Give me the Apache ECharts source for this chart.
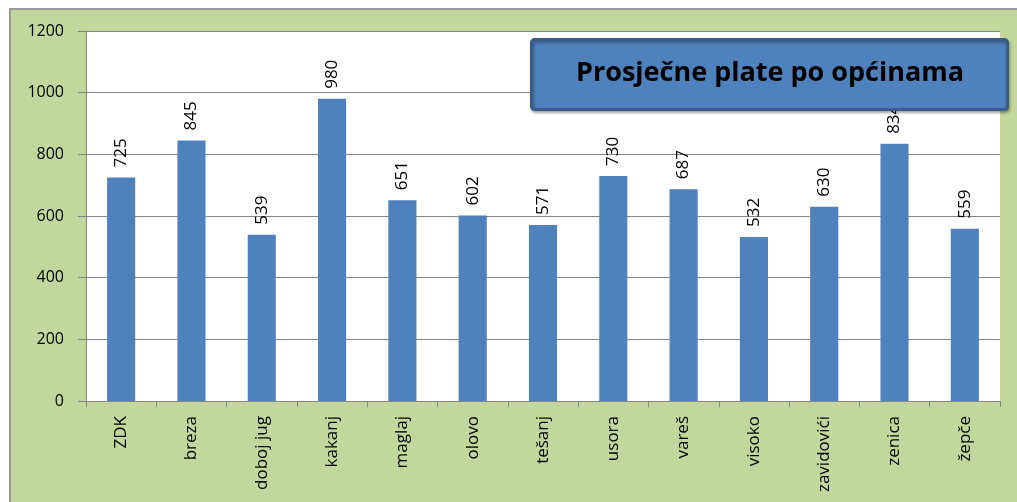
<!DOCTYPE html>
<html>
<head>
<meta charset="utf-8">
<script src="https://cdn.jsdelivr.net/npm/echarts@6/dist/echarts.min.js"></script>
<style>
  html, body { margin: 0; padding: 0; background: #ffffff; }
  #frame {
    position: absolute; left: 9px; top: 8px; width: 1020px; height: 500px;
    background: #c3d69b; border: 2px solid #9a9a9a; box-sizing: border-box;
  }
  #chart { position: absolute; left: 0; top: 0; width: 1017px; height: 502px; }
</style>
</head>
<body>
<div id="frame"></div>
<div id="chart"></div>
<script>
// data
var categories = ['ZDK', 'breza', 'doboj jug', 'kakanj', 'maglaj', 'olovo', 'tešanj', 'usora', 'vareš', 'visoko', 'zavidovići', 'zenica', 'žepče'];
var plate = [725, 845, 539, 980, 651, 602, 571, 730, 687, 532, 630, 834, 559];
var titleText = 'Prosječne plate po općinama';

var fontFam = '"Open Sans", "Liberation Sans", sans-serif';
var chart = echarts.init(document.getElementById('chart'));
chart.setOption({
  animation: false,
  backgroundColor: 'transparent',
  grid: {
    left: 86, right: 17, top: 31, bottom: 101,
    show: true, backgroundColor: '#ffffff', borderWidth: 0
  },
  xAxis: {
    type: 'category',
    data: categories,
    boundaryGap: true,
    axisLine: { lineStyle: { color: '#868686', width: 1 } },
    axisTick: { show: true, length: 6, lineStyle: { color: '#868686' } },
    axisLabel: {
      rotate: 90, margin: 15, color: '#000', fontSize: 17, fontFamily: fontFam, interval: 0
    }
  },
  yAxis: {
    type: 'value',
    min: 0, max: 1200, interval: 200,
    axisLine: { show: true, lineStyle: { color: '#868686', width: 1 } },
    axisTick: { show: true, length: 8, lineStyle: { color: '#868686' } },
    splitLine: { lineStyle: { color: '#868686', width: 1 } },
    axisLabel: {
      margin: 22, color: '#000', fontSize: 16, fontFamily: fontFam,
      formatter: function (v) { return String(v); }
    }
  },
  series: [{
    type: 'bar',
    data: plate,
    barWidth: '40%',
    itemStyle: { color: '#4f81bd' },
    label: {
      show: true, position: 'top', rotate: 90, align: 'left', verticalAlign: 'middle',
      distance: 10, color: '#000', fontSize: 17, fontFamily: fontFam
    }
  }],
  graphic: [{
    type: 'rect', left: 530, top: 38, z: 100, zlevel: 1,
    shape: { width: 476, height: 70, r: 3 },
    style: {
      fill: '#4f81bd', stroke: '#385d8a', lineWidth: 3,
      shadowBlur: 3, shadowOffsetX: 1, shadowOffsetY: 2, shadowColor: 'rgba(0,0,0,0.3)'
    }
  }, {
    type: 'text', left: 576, top: 60, z: 101, zlevel: 1,
    style: {
      text: titleText, fill: '#000', font: 'bold 27px ' + fontFam
    }
  }]
});
</script>
</body>
</html>
